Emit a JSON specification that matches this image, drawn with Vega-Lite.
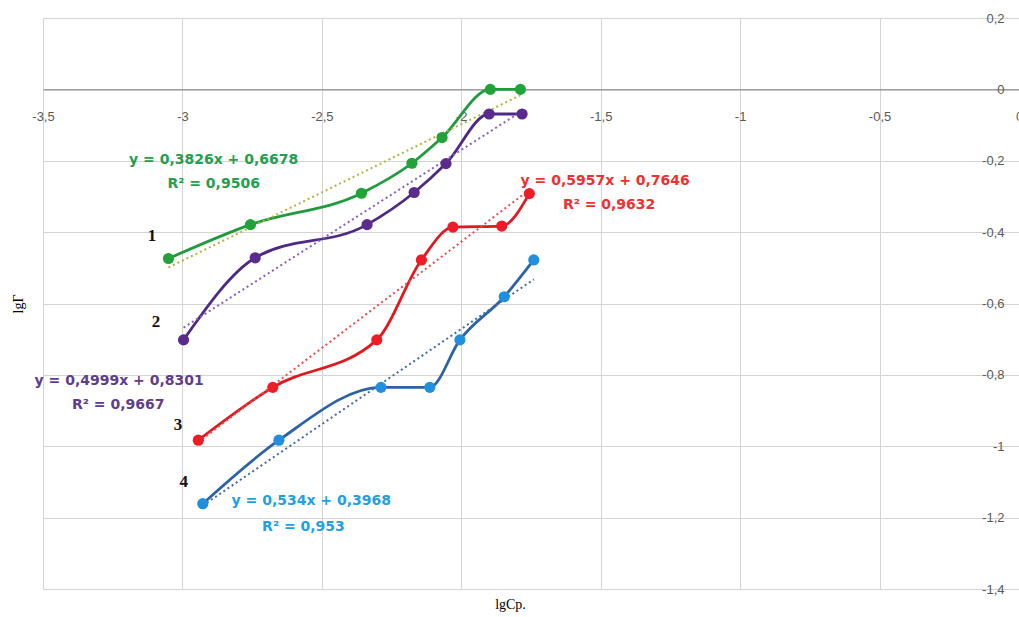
{
  "$schema": "https://vega.github.io/schema/vega-lite/v6.json",
  "width": 976,
  "height": 571,
  "autosize": {"type": "none"},
  "padding": {"left": 43, "top": 18, "right": 0, "bottom": 28},
  "background": "white",
  "config": {
    "locale": {"number": {"decimal": ",", "thousands": " ", "grouping": [3], "currency": ["", ""], "minus": "-"}},
    "view": {"stroke": null}
  },
  "datasets": {
    "pts": [
      {"s": "1", "lx": -3.05, "ly": -0.474}, {"s": "1", "lx": -2.756, "ly": -0.379}, {"s": "1", "lx": -2.358, "ly": -0.291}, {"s": "1", "lx": -2.177, "ly": -0.207}, {"s": "1", "lx": -2.069, "ly": -0.135}, {"s": "1", "lx": -1.896, "ly": 0.0}, {"s": "1", "lx": -1.788, "ly": 0.0},
      {"s": "2", "lx": -2.996, "ly": -0.702}, {"s": "2", "lx": -2.739, "ly": -0.472}, {"s": "2", "lx": -2.338, "ly": -0.379}, {"s": "2", "lx": -2.169, "ly": -0.289}, {"s": "2", "lx": -2.055, "ly": -0.208}, {"s": "2", "lx": -1.9, "ly": -0.069}, {"s": "2", "lx": -1.782, "ly": -0.069},
      {"s": "3", "lx": -2.943, "ly": -0.983}, {"s": "3", "lx": -2.676, "ly": -0.835}, {"s": "3", "lx": -2.303, "ly": -0.702}, {"s": "3", "lx": -2.143, "ly": -0.478}, {"s": "3", "lx": -2.03, "ly": -0.386}, {"s": "3", "lx": -1.855, "ly": -0.383}, {"s": "3", "lx": -1.756, "ly": -0.292},
      {"s": "4", "lx": -2.927, "ly": -1.161}, {"s": "4", "lx": -2.654, "ly": -0.983}, {"s": "4", "lx": -2.288, "ly": -0.835}, {"s": "4", "lx": -2.113, "ly": -0.835}, {"s": "4", "lx": -2.005, "ly": -0.702}, {"s": "4", "lx": -1.846, "ly": -0.581}, {"s": "4", "lx": -1.74, "ly": -0.478}
    ],
    "trend": [
      {"s": "t1", "lx": -3.05, "ly": -0.4991}, {"s": "t1", "lx": -1.788, "ly": -0.0163},
      {"s": "t2", "lx": -2.996, "ly": -0.6676}, {"s": "t2", "lx": -1.782, "ly": -0.0607},
      {"s": "t3", "lx": -2.943, "ly": -0.9886}, {"s": "t3", "lx": -1.756, "ly": -0.2815},
      {"s": "t4", "lx": -2.927, "ly": -1.1662}, {"s": "t4", "lx": -1.74, "ly": -0.5324}
    ],
    "eq": [
      {"k": "1", "tx": -2.888, "ty": -0.198, "t": "y = 0,3826x + 0,6678"},
      {"k": "1", "tx": -2.888, "ty": -0.265, "t": "R² = 0,9506"},
      {"k": "3", "tx": -1.484, "ty": -0.257, "t": "y = 0,5957x + 0,7646"},
      {"k": "3", "tx": -1.47, "ty": -0.324, "t": "R² = 0,9632"},
      {"k": "2", "tx": -3.227, "ty": -0.817, "t": "y = 0,4999x + 0,8301"},
      {"k": "2", "tx": -3.23, "ty": -0.884, "t": "R² = 0,9667"},
      {"k": "4", "tx": -2.538, "ty": -1.153, "t": "y = 0,534x + 0,3968"},
      {"k": "4", "tx": -2.566, "ty": -1.226, "t": "R² = 0,953"}
    ],
    "num": [
      {"n": "1", "nx": -3.109, "ny": -0.411},
      {"n": "2", "nx": -3.095, "ny": -0.652},
      {"n": "3", "nx": -3.016, "ny": -0.94},
      {"n": "4", "nx": -2.995, "ny": -1.1}
    ]
  },
  "resolve": {"axis": {"x": "independent", "y": "independent"}},
  "layer": [
    {
      "data": {"name": "pts"},
      "mark": {"type": "point", "opacity": 0},
      "encoding": {
        "x": {"field": "lx", "type": "quantitative", "scale": {"domain": [-3.5, 0], "nice": false, "zero": false},
          "axis": {"orient": "bottom", "values": [-3.5, -3, -2.5, -2, -1.5, -1, -0.5, 0], "labels": false, "ticks": false, "domain": false, "grid": true, "gridColor": "#d4d4d4", "gridWidth": 1,
            "title": "lgCp.", "titleFont": "Liberation Serif", "titleFontSize": 14, "titleFontWeight": "normal", "titleColor": "#000000", "titlePadding": 8, "titleX": 467, "titleAlign": "center"}},
        "y": {"field": "ly", "type": "quantitative", "scale": {"domain": [-1.4, 0.2], "nice": false, "zero": false},
          "axis": {"orient": "left", "labels": false, "ticks": false, "domain": false, "grid": false,
            "title": "lgΓ", "titleFont": "Liberation Serif", "titleFontSize": 14, "titleFontWeight": "normal", "titleColor": "#000000", "titlePadding": 18}}
      }
    },
    {
      "data": {"name": "pts"},
      "mark": {"type": "line", "interpolate": "monotone", "strokeWidth": 2.8},
      "encoding": {
        "x": {"field": "lx", "type": "quantitative", "scale": {"domain": [-3.5, 0], "nice": false, "zero": false},
          "axis": {"orient": "bottom", "offset": -499.6, "values": [-3.5, -3, -2.5, -2, -1.5, -1, -0.5, 0], "format": ".1~f", "labelFont": "Liberation Sans", "labelFontSize": 13, "labelColor": "#595959", "labelPadding": 21, "labelFlush": false, "labelOverlap": false, "ticks": false, "grid": false, "domain": true, "domainColor": "#8c8c8c", "domainWidth": 1.4, "title": null}},
        "y": {"field": "ly", "type": "quantitative", "scale": {"domain": [-1.4, 0.2], "nice": false, "zero": false},
          "axis": {"orient": "right", "values": [-1.4, -1.2, -1, -0.8, -0.6, -0.4, -0.2, 0, 0.2], "format": ".1~f", "labelAlign": "right", "labelBaseline": "middle", "labelPadding": -15, "labelFont": "Liberation Sans", "labelFontSize": 13, "labelColor": "#595959", "labelFlush": false, "labelOverlap": false, "ticks": false, "domain": false, "grid": true, "gridColor": "#d4d4d4", "gridWidth": 1, "title": null}},
        "stroke": {"field": "s", "type": "nominal", "legend": null,
          "scale": {"domain": ["1", "2", "3", "4", "t1", "t2", "t3", "t4"], "range": ["#1f9a3c", "#4e2a84", "#e0191f", "#2b62a8", "#b0b440", "#8a5cc0", "#ee4a4a", "#3f6aa8"]}}
      }
    },
    {
      "data": {"name": "trend"},
      "mark": {"type": "line", "strokeWidth": 2, "strokeDash": [2, 3]},
      "encoding": {
        "x": {"field": "lx", "type": "quantitative", "scale": {"domain": [-3.5, 0], "nice": false, "zero": false}, "axis": null},
        "y": {"field": "ly", "type": "quantitative", "scale": {"domain": [-1.4, 0.2], "nice": false, "zero": false}, "axis": null},
        "stroke": {"field": "s", "type": "nominal", "legend": null,
          "scale": {"domain": ["1", "2", "3", "4", "t1", "t2", "t3", "t4"], "range": ["#1f9a3c", "#4e2a84", "#e0191f", "#2b62a8", "#b0b440", "#8a5cc0", "#ee4a4a", "#3f6aa8"]}}
      }
    },
    {
      "data": {"name": "pts"},
      "mark": {"type": "circle", "size": 125, "opacity": 1},
      "encoding": {
        "x": {"field": "lx", "type": "quantitative", "scale": {"domain": [-3.5, 0], "nice": false, "zero": false}, "axis": null},
        "y": {"field": "ly", "type": "quantitative", "scale": {"domain": [-1.4, 0.2], "nice": false, "zero": false}, "axis": null},
        "fill": {"field": "s", "type": "nominal", "legend": null,
          "scale": {"domain": ["1", "2", "3", "4"], "range": ["#22a33a", "#5a2a8c", "#ee1c24", "#2090dc"]}}
      }
    },
    {
      "data": {"name": "eq"},
      "mark": {"type": "text", "align": "center", "baseline": "middle", "font": "DejaVu Sans", "fontSize": 14, "fontWeight": "bold"},
      "encoding": {
        "x": {"field": "tx", "type": "quantitative", "scale": {"domain": [-3.5, 0], "nice": false, "zero": false}, "axis": null},
        "y": {"field": "ty", "type": "quantitative", "scale": {"domain": [-1.4, 0.2], "nice": false, "zero": false}, "axis": null},
        "text": {"field": "t", "type": "nominal"},
        "color": {"field": "k", "type": "nominal", "legend": null,
          "scale": {"domain": ["1", "2", "3", "4"], "range": ["#22a050", "#5f3d8e", "#f03030", "#1ea0e6"]}}
      }
    },
    {
      "data": {"name": "num"},
      "mark": {"type": "text", "align": "center", "baseline": "middle", "font": "Liberation Serif", "fontSize": 17, "fontWeight": "bold", "color": "#111111"},
      "encoding": {
        "x": {"field": "nx", "type": "quantitative", "scale": {"domain": [-3.5, 0], "nice": false, "zero": false}, "axis": null},
        "y": {"field": "ny", "type": "quantitative", "scale": {"domain": [-1.4, 0.2], "nice": false, "zero": false}, "axis": null},
        "text": {"field": "n", "type": "nominal"}
      }
    }
  ]
}
